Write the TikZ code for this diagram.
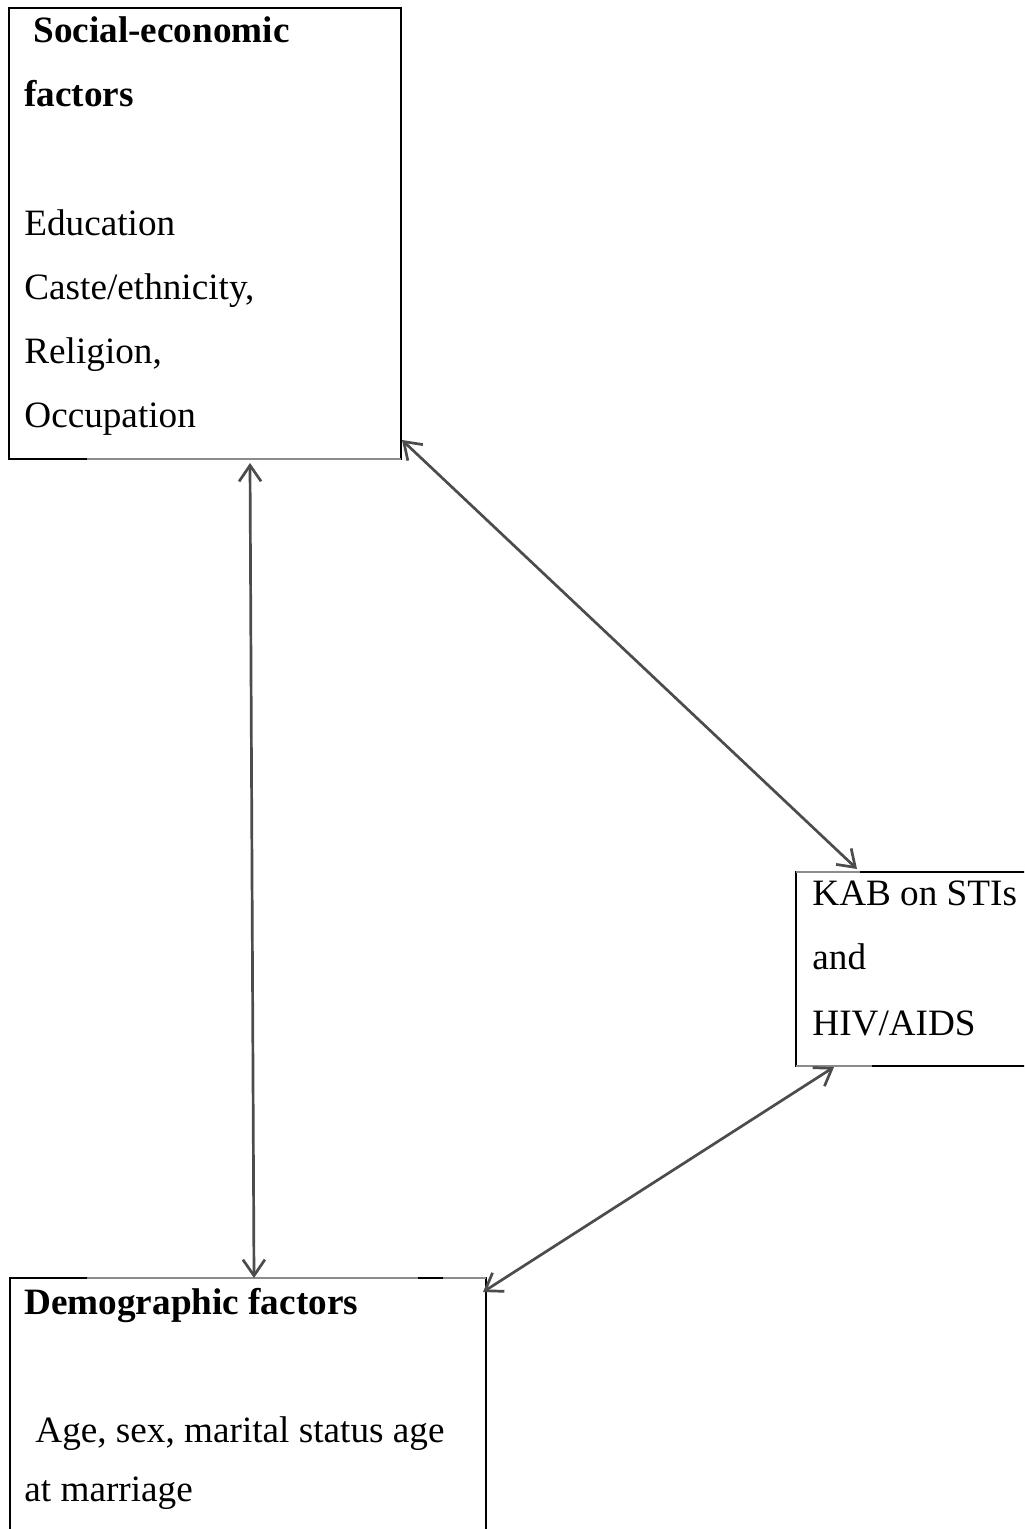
\documentclass[tikz,border=0pt]{standalone}
\usepackage{fontspec}
\setmainfont{Liberation Serif}
\usetikzlibrary{arrows.meta}
\begin{document}
\begin{tikzpicture}[x=0.5pt,y=-0.5pt,
  box/.style={draw=black,line width=0.55pt,inner sep=0pt,rectangle},
  txt/.style={anchor=base west,inner sep=0pt,font=\fontsize{18.6}{23}\selectfont},
  hd/.style={anchor=base west,inner sep=0pt,font=\fontsize{18.6}{23}\selectfont\bfseries},
  artifact/.style={draw=black!45,line width=1.1pt},
  link/.style={draw=black!70,line width=1.35pt,
    {Straight Barb[length=8pt,width=11pt]}-{Straight Barb[length=8pt,width=11pt]}}]
\useasboundingbox (0,0) rectangle (1024,1529);
\clip (0,0) rectangle (1024,1529);
\fill[white] (0,0) rectangle (1024,1529);

% boxes
\node[box,minimum width=196pt,minimum height=225.5pt] (se) at (205,233.5) {};
\node[box,minimum width=124pt,minimum height=97pt] (kab) at (920,969) {};
\node[box,minimum width=238pt,minimum height=135pt] (dm) at (248,1413) {};

% edge artifacts
\draw[artifact] (87,459) -- (401,459);
\draw[artifact] (87,1278) -- (418,1278);
\draw[artifact] (443,1278) -- (486,1278);
\draw[artifact] (796,872) -- (860,872);
\draw[artifact] (796,1066) -- (872,1066);

% texts
\node[hd]  (t1) at (33,43)  {Social-economic};
\node[hd]  (t2) at (24,107) {factors};
\node[txt] (t3) at (24,236) {Education};
\node[txt] (t4) at (24,300) {Caste/ethnicity,};
\node[txt] (t5) at (24,364) {Religion,};
\node[txt] (t6) at (24,428) {Occupation};

\node[txt] (k1) at (812,905)  {KAB on STIs};
\node[txt] (k2) at (812,969)  {and};
\node[txt] (k3) at (812,1035) {HIV/AIDS};

\node[hd]  (d1) at (24,1314) {Demographic factors};
\node[txt] (d2) at (35,1442) {Age, sex, marital status age};
\node[txt] (d3) at (24,1501) {at marriage};

% connector end points
\coordinate (seB) at (250,463);
\coordinate (dmT) at (254,1278);
\coordinate (seC) at (402,440);
\coordinate (kabT) at (857,869);
\coordinate (kabB) at (834,1067);
\coordinate (dmC) at (483,1292);

\draw[link] (seB) -- (dmT);
\draw[link] (seC) -- (kabT);
\draw[link] (kabB) -- (dmC);
\end{tikzpicture}
\end{document}
